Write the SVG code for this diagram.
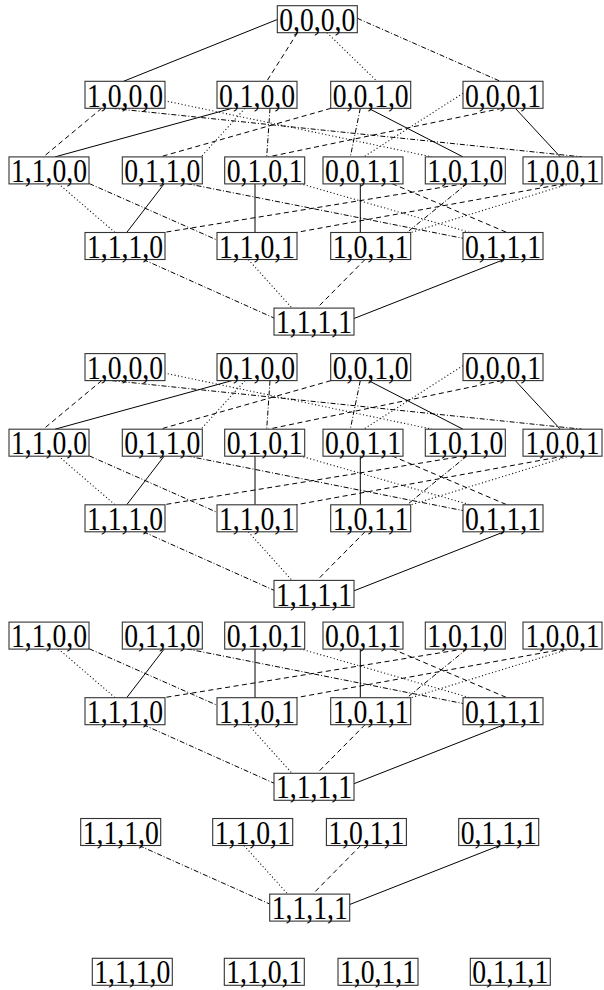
<svg xmlns="http://www.w3.org/2000/svg" width="604" height="990" viewBox="0 0 604 990">
<style>
.bg{fill:#fff}
rect.n{fill:#fff;stroke:#333;stroke-width:1.1}
text{font-family:"Liberation Serif","Times New Roman",serif;font-size:33px;fill:#000;text-anchor:middle}
line{stroke:#000;stroke-width:1;fill:none}
.s{}
.d{stroke-dasharray:5 3.5}
.o{stroke-dasharray:1.1 2.4;stroke:#111;stroke-width:1.1}
.dd{stroke-dasharray:5 2 1 2}
</style>
<rect class="bg" x="0" y="0" width="604" height="990"/>
<g id="connectors">
 <g id="c1">
  <line class="s" x1="277.3" y1="19.5" x2="123.5" y2="81.3"/>
  <line class="d" x1="297.5" y1="32.7" x2="266.7" y2="81.3"/>
  <line class="o" x1="327" y1="32.7" x2="377" y2="81.3"/>
  <line class="dd" x1="357.3" y1="18.3" x2="500.3" y2="81.3"/>
  <line class="d" x1="101.7" y1="108.3" x2="43.3" y2="156.9"/>
  <line class="o" x1="164.3" y1="100.7" x2="432" y2="156.9"/>
  <line class="dd" x1="111.7" y1="108.3" x2="582" y2="156.9"/>
  <line class="s" x1="232" y1="108.3" x2="55" y2="156.9"/>
  <line class="o" x1="245" y1="108.3" x2="201" y2="156.9"/>
  <line class="dd" x1="270" y1="108.3" x2="266.7" y2="156.9"/>
  <line class="s" x1="368.5" y1="108.3" x2="463" y2="156.9"/>
  <line class="d" x1="331" y1="108.3" x2="160" y2="156.9"/>
  <line class="dd" x1="360.3" y1="108.3" x2="350.3" y2="156.9"/>
  <line class="s" x1="515.3" y1="108.3" x2="560.3" y2="156.9"/>
  <line class="d" x1="502" y1="108.3" x2="268.3" y2="156.9"/>
  <line class="o" x1="463" y1="93.3" x2="363.7" y2="156.9"/>
  <line class="o" x1="58.3" y1="183.6" x2="115" y2="232.5"/>
  <line class="dd" x1="89.3" y1="183.6" x2="217" y2="240"/>
  <line class="s" x1="164.3" y1="183.6" x2="126.7" y2="232.5"/>
  <line class="dd" x1="186.7" y1="183.6" x2="463" y2="238.3"/>
  <line class="s" x1="255" y1="183.6" x2="255" y2="232.5"/>
  <line class="o" x1="300" y1="183.6" x2="470" y2="232.5"/>
  <line class="s" x1="360.3" y1="183.6" x2="360.3" y2="232.5"/>
  <line class="d" x1="392" y1="183.6" x2="507" y2="232.5"/>
  <line class="d" x1="465" y1="183.6" x2="163.5" y2="232.5"/>
  <line class="dd" x1="467" y1="183.6" x2="407" y2="232.5"/>
  <line class="d" x1="565" y1="183.6" x2="296" y2="232.5"/>
  <line class="o" x1="570" y1="183.6" x2="411" y2="232.5"/>
  <line class="dd" x1="143.3" y1="259.5" x2="274" y2="318"/>
  <line class="o" x1="248.3" y1="259.5" x2="292" y2="308.1"/>
  <line class="d" x1="365" y1="259.5" x2="317" y2="308.1"/>
  <line class="s" x1="504" y1="259.5" x2="354" y2="318.5"/>
 </g>
 <g id="c2" transform="translate(0,272.3)">
  <line class="d" x1="101.7" y1="108.3" x2="43.3" y2="156.9"/>
  <line class="o" x1="164.3" y1="100.7" x2="432" y2="156.9"/>
  <line class="dd" x1="111.7" y1="108.3" x2="582" y2="156.9"/>
  <line class="s" x1="232" y1="108.3" x2="55" y2="156.9"/>
  <line class="o" x1="245" y1="108.3" x2="201" y2="156.9"/>
  <line class="dd" x1="270" y1="108.3" x2="266.7" y2="156.9"/>
  <line class="s" x1="368.5" y1="108.3" x2="463" y2="156.9"/>
  <line class="d" x1="331" y1="108.3" x2="160" y2="156.9"/>
  <line class="dd" x1="360.3" y1="108.3" x2="350.3" y2="156.9"/>
  <line class="s" x1="515.3" y1="108.3" x2="560.3" y2="156.9"/>
  <line class="d" x1="502" y1="108.3" x2="268.3" y2="156.9"/>
  <line class="o" x1="463" y1="93.3" x2="363.7" y2="156.9"/>
  <line class="o" x1="58.3" y1="183.6" x2="115" y2="232.5"/>
  <line class="dd" x1="89.3" y1="183.6" x2="217" y2="240"/>
  <line class="s" x1="164.3" y1="183.6" x2="126.7" y2="232.5"/>
  <line class="dd" x1="186.7" y1="183.6" x2="463" y2="238.3"/>
  <line class="s" x1="255" y1="183.6" x2="255" y2="232.5"/>
  <line class="o" x1="300" y1="183.6" x2="470" y2="232.5"/>
  <line class="s" x1="360.3" y1="183.6" x2="360.3" y2="232.5"/>
  <line class="d" x1="392" y1="183.6" x2="507" y2="232.5"/>
  <line class="d" x1="465" y1="183.6" x2="163.5" y2="232.5"/>
  <line class="dd" x1="467" y1="183.6" x2="407" y2="232.5"/>
  <line class="d" x1="565" y1="183.6" x2="296" y2="232.5"/>
  <line class="o" x1="570" y1="183.6" x2="411" y2="232.5"/>
  <line class="dd" x1="143.3" y1="259.5" x2="274" y2="318"/>
  <line class="o" x1="248.3" y1="259.5" x2="292" y2="308.1"/>
  <line class="d" x1="365" y1="259.5" x2="317" y2="308.1"/>
  <line class="s" x1="504" y1="259.5" x2="354" y2="318.5"/>
 </g>
 <g id="c3" transform="translate(0,465.2)">
  <line class="o" x1="58.3" y1="183.6" x2="115" y2="232.5"/>
  <line class="dd" x1="89.3" y1="183.6" x2="217" y2="240"/>
  <line class="s" x1="164.3" y1="183.6" x2="126.7" y2="232.5"/>
  <line class="dd" x1="186.7" y1="183.6" x2="463" y2="238.3"/>
  <line class="s" x1="255" y1="183.6" x2="255" y2="232.5"/>
  <line class="o" x1="300" y1="183.6" x2="470" y2="232.5"/>
  <line class="s" x1="360.3" y1="183.6" x2="360.3" y2="232.5"/>
  <line class="d" x1="392" y1="183.6" x2="507" y2="232.5"/>
  <line class="d" x1="465" y1="183.6" x2="163.5" y2="232.5"/>
  <line class="dd" x1="467" y1="183.6" x2="407" y2="232.5"/>
  <line class="d" x1="565" y1="183.6" x2="296" y2="232.5"/>
  <line class="o" x1="570" y1="183.6" x2="411" y2="232.5"/>
  <line class="dd" x1="143.3" y1="259.5" x2="274" y2="318"/>
  <line class="o" x1="248.3" y1="259.5" x2="292" y2="308.1"/>
  <line class="d" x1="365" y1="259.5" x2="317" y2="308.1"/>
  <line class="s" x1="504" y1="259.5" x2="354" y2="318.5"/>
 </g>
 <g id="c4" transform="translate(-4.3,586)">
  <line class="dd" x1="143.3" y1="259.5" x2="274" y2="318"/>
  <line class="o" x1="248.3" y1="259.5" x2="292" y2="308.1"/>
  <line class="d" x1="365" y1="259.5" x2="317" y2="308.1"/>
  <line class="s" x1="504" y1="259.5" x2="354" y2="318.5"/>
 </g>
</g>
<g id="nodes">
 <g id="sec1">
  <g id="n1-0000"><rect class="n" x="277.3" y="5.7" width="80" height="27"/><text x="317.3" y="30.9" textLength="76" lengthAdjust="spacingAndGlyphs">0,0,0,0</text></g>
  <g id="n1-1000"><rect class="n" x="85" y="81.3" width="80" height="27"/><text x="125" y="106.5" textLength="76" lengthAdjust="spacingAndGlyphs">1,0,0,0</text></g>
  <g id="n1-0100"><rect class="n" x="217" y="81.3" width="80" height="27"/><text x="257" y="106.5" textLength="76" lengthAdjust="spacingAndGlyphs">0,1,0,0</text></g>
  <g id="n1-0010"><rect class="n" x="330.7" y="81.3" width="80" height="27"/><text x="370.7" y="106.5" textLength="76" lengthAdjust="spacingAndGlyphs">0,0,1,0</text></g>
  <g id="n1-0001"><rect class="n" x="463" y="81.3" width="80" height="27"/><text x="503" y="106.5" textLength="76" lengthAdjust="spacingAndGlyphs">0,0,0,1</text></g>
  <g id="n1-1100"><rect class="n" x="9" y="156.9" width="80" height="27"/><text x="49" y="182.1" textLength="76" lengthAdjust="spacingAndGlyphs">1,1,0,0</text></g>
  <g id="n1-0110"><rect class="n" x="122.3" y="156.9" width="80" height="27"/><text x="162.3" y="182.1" textLength="76" lengthAdjust="spacingAndGlyphs">0,1,1,0</text></g>
  <g id="n1-0101"><rect class="n" x="224.7" y="156.9" width="80" height="27"/><text x="264.7" y="182.1" textLength="76" lengthAdjust="spacingAndGlyphs">0,1,0,1</text></g>
  <g id="n1-0011"><rect class="n" x="323" y="156.9" width="80" height="27"/><text x="363" y="182.1" textLength="76" lengthAdjust="spacingAndGlyphs">0,0,1,1</text></g>
  <g id="n1-1010"><rect class="n" x="425.3" y="156.9" width="80" height="27"/><text x="465.3" y="182.1" textLength="76" lengthAdjust="spacingAndGlyphs">1,0,1,0</text></g>
  <g id="n1-1001"><rect class="n" x="523" y="156.9" width="79" height="27"/><text x="562.5" y="182.1" textLength="74" lengthAdjust="spacingAndGlyphs">1,0,0,1</text></g>
  <g id="n1-1110"><rect class="n" x="85" y="232.5" width="80" height="27"/><text x="125" y="257.7" textLength="76" lengthAdjust="spacingAndGlyphs">1,1,1,0</text></g>
  <g id="n1-1101"><rect class="n" x="217" y="232.5" width="80" height="27"/><text x="257" y="257.7" textLength="76" lengthAdjust="spacingAndGlyphs">1,1,0,1</text></g>
  <g id="n1-1011"><rect class="n" x="330.7" y="232.5" width="80" height="27"/><text x="370.7" y="257.7" textLength="76" lengthAdjust="spacingAndGlyphs">1,0,1,1</text></g>
  <g id="n1-0111"><rect class="n" x="463" y="232.5" width="80" height="27"/><text x="503" y="257.7" textLength="76" lengthAdjust="spacingAndGlyphs">0,1,1,1</text></g>
  <g id="n1-1111"><rect class="n" x="274" y="308.1" width="80" height="27"/><text x="314" y="333.3" textLength="76" lengthAdjust="spacingAndGlyphs">1,1,1,1</text></g>
 </g>
 <g id="sec2" transform="translate(0,272.3)">
  <g id="n2-1000"><rect class="n" x="85" y="81.3" width="80" height="27"/><text x="125" y="106.5" textLength="76" lengthAdjust="spacingAndGlyphs">1,0,0,0</text></g>
  <g id="n2-0100"><rect class="n" x="217" y="81.3" width="80" height="27"/><text x="257" y="106.5" textLength="76" lengthAdjust="spacingAndGlyphs">0,1,0,0</text></g>
  <g id="n2-0010"><rect class="n" x="330.7" y="81.3" width="80" height="27"/><text x="370.7" y="106.5" textLength="76" lengthAdjust="spacingAndGlyphs">0,0,1,0</text></g>
  <g id="n2-0001"><rect class="n" x="463" y="81.3" width="80" height="27"/><text x="503" y="106.5" textLength="76" lengthAdjust="spacingAndGlyphs">0,0,0,1</text></g>
  <g id="n2-1100"><rect class="n" x="9" y="156.9" width="80" height="27"/><text x="49" y="182.1" textLength="76" lengthAdjust="spacingAndGlyphs">1,1,0,0</text></g>
  <g id="n2-0110"><rect class="n" x="122.3" y="156.9" width="80" height="27"/><text x="162.3" y="182.1" textLength="76" lengthAdjust="spacingAndGlyphs">0,1,1,0</text></g>
  <g id="n2-0101"><rect class="n" x="224.7" y="156.9" width="80" height="27"/><text x="264.7" y="182.1" textLength="76" lengthAdjust="spacingAndGlyphs">0,1,0,1</text></g>
  <g id="n2-0011"><rect class="n" x="323" y="156.9" width="80" height="27"/><text x="363" y="182.1" textLength="76" lengthAdjust="spacingAndGlyphs">0,0,1,1</text></g>
  <g id="n2-1010"><rect class="n" x="425.3" y="156.9" width="80" height="27"/><text x="465.3" y="182.1" textLength="76" lengthAdjust="spacingAndGlyphs">1,0,1,0</text></g>
  <g id="n2-1001"><rect class="n" x="523" y="156.9" width="79" height="27"/><text x="562.5" y="182.1" textLength="74" lengthAdjust="spacingAndGlyphs">1,0,0,1</text></g>
  <g id="n2-1110"><rect class="n" x="85" y="232.5" width="80" height="27"/><text x="125" y="257.7" textLength="76" lengthAdjust="spacingAndGlyphs">1,1,1,0</text></g>
  <g id="n2-1101"><rect class="n" x="217" y="232.5" width="80" height="27"/><text x="257" y="257.7" textLength="76" lengthAdjust="spacingAndGlyphs">1,1,0,1</text></g>
  <g id="n2-1011"><rect class="n" x="330.7" y="232.5" width="80" height="27"/><text x="370.7" y="257.7" textLength="76" lengthAdjust="spacingAndGlyphs">1,0,1,1</text></g>
  <g id="n2-0111"><rect class="n" x="463" y="232.5" width="80" height="27"/><text x="503" y="257.7" textLength="76" lengthAdjust="spacingAndGlyphs">0,1,1,1</text></g>
  <g id="n2-1111"><rect class="n" x="274" y="308.1" width="80" height="27"/><text x="314" y="333.3" textLength="76" lengthAdjust="spacingAndGlyphs">1,1,1,1</text></g>
 </g>
 <g id="sec3" transform="translate(0,465.2)">
  <g id="n3-1100"><rect class="n" x="9" y="156.9" width="80" height="27"/><text x="49" y="182.1" textLength="76" lengthAdjust="spacingAndGlyphs">1,1,0,0</text></g>
  <g id="n3-0110"><rect class="n" x="122.3" y="156.9" width="80" height="27"/><text x="162.3" y="182.1" textLength="76" lengthAdjust="spacingAndGlyphs">0,1,1,0</text></g>
  <g id="n3-0101"><rect class="n" x="224.7" y="156.9" width="80" height="27"/><text x="264.7" y="182.1" textLength="76" lengthAdjust="spacingAndGlyphs">0,1,0,1</text></g>
  <g id="n3-0011"><rect class="n" x="323" y="156.9" width="80" height="27"/><text x="363" y="182.1" textLength="76" lengthAdjust="spacingAndGlyphs">0,0,1,1</text></g>
  <g id="n3-1010"><rect class="n" x="425.3" y="156.9" width="80" height="27"/><text x="465.3" y="182.1" textLength="76" lengthAdjust="spacingAndGlyphs">1,0,1,0</text></g>
  <g id="n3-1001"><rect class="n" x="523" y="156.9" width="79" height="27"/><text x="562.5" y="182.1" textLength="74" lengthAdjust="spacingAndGlyphs">1,0,0,1</text></g>
  <g id="n3-1110"><rect class="n" x="85" y="232.5" width="80" height="27"/><text x="125" y="257.7" textLength="76" lengthAdjust="spacingAndGlyphs">1,1,1,0</text></g>
  <g id="n3-1101"><rect class="n" x="217" y="232.5" width="80" height="27"/><text x="257" y="257.7" textLength="76" lengthAdjust="spacingAndGlyphs">1,1,0,1</text></g>
  <g id="n3-1011"><rect class="n" x="330.7" y="232.5" width="80" height="27"/><text x="370.7" y="257.7" textLength="76" lengthAdjust="spacingAndGlyphs">1,0,1,1</text></g>
  <g id="n3-0111"><rect class="n" x="463" y="232.5" width="80" height="27"/><text x="503" y="257.7" textLength="76" lengthAdjust="spacingAndGlyphs">0,1,1,1</text></g>
  <g id="n3-1111"><rect class="n" x="274" y="308.1" width="80" height="27"/><text x="314" y="333.3" textLength="76" lengthAdjust="spacingAndGlyphs">1,1,1,1</text></g>
 </g>
 <g id="sec4" transform="translate(-4.3,586)">
  <g id="n4-1110"><rect class="n" x="85" y="232.5" width="80" height="27"/><text x="125" y="257.7" textLength="76" lengthAdjust="spacingAndGlyphs">1,1,1,0</text></g>
  <g id="n4-1101"><rect class="n" x="217" y="232.5" width="80" height="27"/><text x="257" y="257.7" textLength="76" lengthAdjust="spacingAndGlyphs">1,1,0,1</text></g>
  <g id="n4-1011"><rect class="n" x="330.7" y="232.5" width="80" height="27"/><text x="370.7" y="257.7" textLength="76" lengthAdjust="spacingAndGlyphs">1,0,1,1</text></g>
  <g id="n4-0111"><rect class="n" x="463" y="232.5" width="80" height="27"/><text x="503" y="257.7" textLength="76" lengthAdjust="spacingAndGlyphs">0,1,1,1</text></g>
  <g id="n4-1111"><rect class="n" x="274" y="308.1" width="80" height="27"/><text x="314" y="333.3" textLength="76" lengthAdjust="spacingAndGlyphs">1,1,1,1</text></g>
 </g>
 <g id="sec5" transform="translate(7.3,725.8)">
  <g id="n5-1110"><rect class="n" x="85" y="232.5" width="80" height="27"/><text x="125" y="257.7" textLength="76" lengthAdjust="spacingAndGlyphs">1,1,1,0</text></g>
  <g id="n5-1101"><rect class="n" x="217" y="232.5" width="80" height="27"/><text x="257" y="257.7" textLength="76" lengthAdjust="spacingAndGlyphs">1,1,0,1</text></g>
  <g id="n5-1011"><rect class="n" x="330.7" y="232.5" width="80" height="27"/><text x="370.7" y="257.7" textLength="76" lengthAdjust="spacingAndGlyphs">1,0,1,1</text></g>
  <g id="n5-0111"><rect class="n" x="463" y="232.5" width="80" height="27"/><text x="503" y="257.7" textLength="76" lengthAdjust="spacingAndGlyphs">0,1,1,1</text></g>
 </g>
</g>
</svg>
